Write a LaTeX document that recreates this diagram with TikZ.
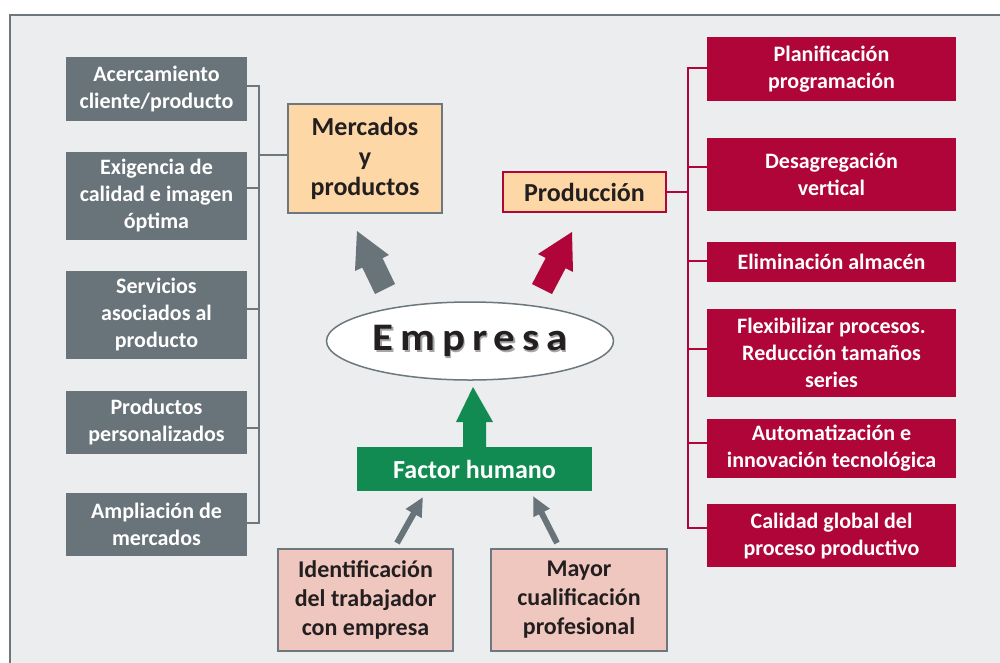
\documentclass[tikz,border=0pt]{standalone}
\usepackage{fontspec}
\setmainfont{Carlito}
\usetikzlibrary{shapes.geometric,arrows.meta}
\definecolor{bg}{HTML}{ECEDEF}
\definecolor{framec}{HTML}{6D777E}
\definecolor{grayb}{HTML}{69737A}
\definecolor{redb}{HTML}{B00538}
\definecolor{peach}{HTML}{FDD8A6}
\definecolor{pinkb}{HTML}{F0C7BF}
\definecolor{greenb}{HTML}{118B51}
\definecolor{txt}{HTML}{231F20}
\begin{document}
\begin{tikzpicture}[x=1pt,y=-1pt,
  fs/.style={font=\bfseries\fontsize{22}{27}\selectfont},
  graybox/.style={fs, fill=grayb, text=white, align=center, inner sep=0pt},
  redbox/.style={fs, fill=redb, text=white, align=center, inner sep=0pt},
  mainbox/.style={font=\bfseries\fontsize{26}{30}\selectfont, text=txt, fill=peach, align=center, inner sep=0pt, line width=1.2pt},
  pinkbox/.style={font=\bfseries\fontsize{24}{29}\selectfont, text=txt, fill=pinkb, draw=framec, line width=1.2pt, align=center, inner sep=0pt},
  gline/.style={draw=framec, line width=2pt},
  rline/.style={draw=redb, line width=2pt},
  thinarrow/.style={draw=grayb, line width=6pt, -{Triangle[length=19pt,width=17pt]}},
  emptext/.style={font=\bfseries\fontsize{39}{44}\selectfont\addfontfeature{LetterSpace=16}, xscale=1.1}
]
\useasboundingbox (0,0) rectangle (1000,662);
\fill[white] (0,0) rectangle (1000,662);
\draw[framec, line width=2pt, fill=bg] (10,15) rectangle (1012,675);

% left boxes
\node[graybox, minimum width=181pt, minimum height=64pt] (l1) at (156.5,89) {Acercamiento\\cliente/producto};
\node[graybox, minimum width=181pt, minimum height=88pt] (l2) at (156.5,196) {Exigencia de\\calidad e imagen\\óptima};
\node[graybox, minimum width=181pt, minimum height=88pt] (l3) at (156.5,315) {Servicios\\asociados al\\producto};
\node[graybox, minimum width=181pt, minimum height=63pt] (l4) at (156.5,422.5) {Productos\\personalizados};
\node[graybox, minimum width=181pt, minimum height=63pt] (l5) at (156.5,524.5) {Ampliación de\\mercados};

\node[mainbox, draw=framec, minimum width=154pt, minimum height=109pt] (merc) at (365,158.5) {Mercados\\y\\productos};

\coordinate (ls1) at (259,86);
\coordinate (ls2) at (259,188);
\coordinate (ls3) at (259,309);
\coordinate (ls4) at (259,428);
\coordinate (ls5) at (259,523);
\coordinate (lm) at (259,155);
\draw[gline] (l1.east |- ls1) -- (ls1) -- (ls5) -- (l5.east |- ls5);
\draw[gline] (l2.east |- ls2) -- (ls2);
\draw[gline] (l3.east |- ls3) -- (ls3);
\draw[gline] (l4.east |- ls4) -- (ls4);
\draw[gline] (lm) -- (merc.west |- lm);

% right boxes
\node[redbox, minimum width=249pt, minimum height=64pt] (r1) at (831.5,69) {Planificación\\programación};
\node[redbox, minimum width=249pt, minimum height=73pt] (r2) at (831.5,174.5) {Desagregación\\vertical};
\node[redbox, minimum width=249pt, minimum height=40pt] (r3) at (831.5,262) {Eliminación almacén};
\node[redbox, minimum width=249pt, minimum height=88pt] (r4) at (831.5,353) {Flexibilizar procesos.\\Reducción tamaños\\series};
\node[redbox, minimum width=249pt, minimum height=59pt] (r5) at (831.5,448.5) {Automatización e\\innovación tecnológica};
\node[redbox, minimum width=249pt, minimum height=63pt] (r6) at (831.5,535.5) {Calidad global del\\proceso productivo};

\node[mainbox, draw=redb, minimum width=163pt, minimum height=40pt] (prod) at (584.5,192) {Producción};

\coordinate (rs1) at (688,68);
\coordinate (rs2) at (688,167);
\coordinate (rs3) at (688,261);
\coordinate (rs4) at (688,349);
\coordinate (rs5) at (688,443);
\coordinate (rs6) at (688,528);
\coordinate (rp) at (688,192);
\draw[rline] (r1.west |- rs1) -- (rs1) -- (rs6) -- (r6.west |- rs6);
\draw[rline] (r2.west |- rs2) -- (rs2);
\draw[rline] (r3.west |- rs3) -- (rs3);
\draw[rline] (r4.west |- rs4) -- (rs4);
\draw[rline] (r5.west |- rs5) -- (rs5);
\draw[rline] (prod.east |- rp) -- (rp);

% Empresa
\node[ellipse, draw=framec, line width=1.5pt, fill=white, minimum width=287pt, minimum height=78pt] (emp) at (470,341) {};
\node[emptext, text=black!35] at (471.8,342.8) {Empresa};
\node[emptext, text=txt] (empt) at (470,341) {Empresa};

% block arrows
\fill[grayb] (357,231) -- (389,255) -- (382.5,258.1) -- (395,284) -- (375,294) -- (362.3,267.6) -- (355,271) -- cycle;
\fill[redb] (572,232) -- (573,272) -- (565.6,268.2) -- (552,294) -- (532,284) -- (545.7,258) -- (538,254) -- cycle;

% Factor humano
\node[fill=greenb, text=white, font=\bfseries\fontsize{26}{30}\selectfont, inner sep=0pt, minimum width=235pt, minimum height=44pt] (fac) at (474.5,469) {Factor humano};
\fill[greenb] (473,387) -- (493,422) -- (486,422) -- (486,447) -- (463,447) -- (463,422) -- (456,422) -- cycle;

% bottom boxes
\node[pinkbox, minimum width=175pt, minimum height=102pt] (id) at (365.5,600) {Identificación\\del trabajador\\con empresa};
\node[pinkbox, minimum width=176pt, minimum height=102pt] (may) at (579,600) {Mayor\\cualificación\\profesional};

\coordinate (a1s) at (397,543);
\coordinate (a1e) at (423,497);
\coordinate (a2s) at (557,543);
\coordinate (a2e) at (533,496);
\draw[thinarrow] (a1s) -- (a1e);
\draw[thinarrow] (a2s) -- (a2e);
\end{tikzpicture}
\end{document}
